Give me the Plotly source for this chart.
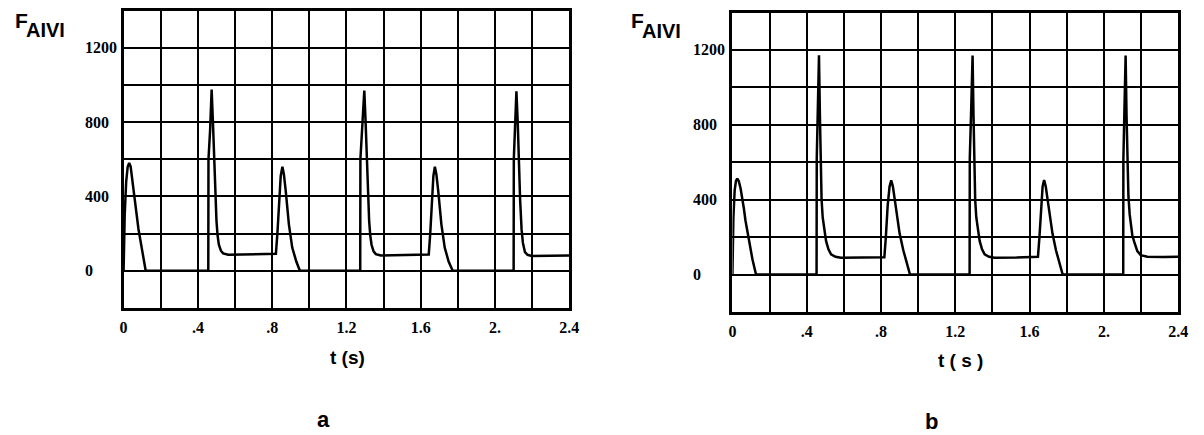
import plotly.graph_objects as go

# ---------------- data ----------------
t_a = [0.000, 0.006, 0.014, 0.022, 0.030, 0.038, 0.048, 0.057, 0.065, 0.073, 0.080, 0.100, 0.119,
       0.456, 0.457, 0.466, 0.474, 0.481, 0.488, 0.494, 0.500, 0.506, 0.513, 0.524, 0.536, 0.563, 0.700, 0.820,
       0.828, 0.837, 0.846, 0.855, 0.863, 0.873, 0.882, 0.890, 0.908, 0.930, 0.949,
       1.274, 1.275, 1.285, 1.296, 1.303, 1.310, 1.316, 1.322, 1.328, 1.335, 1.346, 1.358, 1.385, 1.500, 1.643,
       1.651, 1.659, 1.668, 1.676, 1.684, 1.694, 1.703, 1.711, 1.729, 1.750, 1.772,
       2.100, 2.101, 2.108, 2.115, 2.122, 2.128, 2.135, 2.143, 2.150, 2.161, 2.175, 2.197, 2.300, 2.400]
f_a = [0, 300, 480, 560, 580, 560, 480, 400, 330, 260, 225, 110, 0,
       0, 600, 760, 975, 800, 590, 400, 270, 190, 140, 108, 94, 86, 88, 92,
       200, 390, 510, 560, 520, 430, 330, 250, 125, 50, 0,
       0, 600, 760, 970, 800, 590, 400, 270, 190, 140, 105, 90, 82, 84, 88,
       200, 390, 510, 560, 520, 430, 330, 250, 125, 50, 0,
       0, 600, 760, 965, 800, 560, 380, 220, 150, 100, 86, 80, 80, 82]

t_b = [0.000, 0.005, 0.012, 0.019, 0.026, 0.034, 0.044, 0.053, 0.062, 0.070, 0.080, 0.088, 0.108, 0.127,
       0.453, 0.454, 0.460, 0.466, 0.471, 0.475, 0.480, 0.486, 0.494, 0.504, 0.517, 0.531, 0.555, 0.584, 0.700, 0.818,
       0.826, 0.836, 0.846, 0.855, 0.864, 0.874, 0.886, 0.900, 0.920, 0.938, 0.956,
       1.277, 1.278, 1.286, 1.293, 1.298, 1.302, 1.307, 1.313, 1.321, 1.331, 1.344, 1.358, 1.382, 1.411, 1.530, 1.645,
       1.653, 1.662, 1.670, 1.678, 1.687, 1.697, 1.709, 1.723, 1.742, 1.760, 1.778,
       2.104, 2.105, 2.111, 2.117, 2.122, 2.127, 2.132, 2.139, 2.145, 2.153, 2.163, 2.180, 2.198, 2.234, 2.320, 2.400]
f_b = [0, 300, 450, 500, 513, 500, 460, 413, 350, 290, 230, 180, 80, 0,
       0, 620, 900, 1172, 850, 520, 400, 305, 235, 180, 135, 108, 95, 90, 91, 93,
       200, 370, 470, 503, 470, 400, 310, 220, 130, 60, 0,
       0, 620, 900, 1170, 850, 520, 400, 305, 235, 180, 135, 108, 95, 90, 91, 95,
       200, 370, 470, 505, 470, 400, 310, 220, 130, 60, 0,
       0, 620, 900, 1170, 850, 520, 420, 320, 260, 210, 176, 125, 104, 95, 94, 95]

x_grid = [0.0, 0.2, 0.4, 0.6, 0.8, 1.0, 1.2, 1.4, 1.6, 1.8, 2.0, 2.2, 2.4]
x_labels = ["<b>0</b>", "", "<b>.4</b>", "", "<b>.8</b>", "", "<b>1.2</b>", "", "<b>1.6</b>", "",
            "<b>2.</b>", "", "<b>2.4</b>"]
y_grid = [-200, 0, 200, 400, 600, 800, 1000, 1200, 1400]
y_label_vals = [0, 400, 800, 1200]
y_label_text = ["0", "400", "800", "1200"]
x_title = ["t (s)", "t ( s )"]
y_title_main = "F"
y_title_sub = "AIVI"
panel_names = ["a", "b"]

# ---------------- figure ----------------
W, H = 1204, 435
fig = go.Figure()
fig.add_trace(go.Scatter(x=t_a, y=f_a, mode="lines", line=dict(color="black", width=2.5),
                         xaxis="x", yaxis="y", showlegend=False, hoverinfo="skip"))
fig.add_trace(go.Scatter(x=t_b, y=f_b, mode="lines", line=dict(color="black", width=2.5),
                         xaxis="x2", yaxis="y2", showlegend=False, hoverinfo="skip"))

tick_font = dict(family="Liberation Serif", size=16, color="black")

def xax(domain, anchor):
    return dict(domain=domain, anchor=anchor, range=[0, 2.4], tickvals=x_grid, ticktext=x_labels,
                showgrid=True, gridcolor="black", gridwidth=1.6, zeroline=False,
                showline=True, mirror=True, linecolor="black", linewidth=3,
                ticks="", tickfont=tick_font, ticklabelstandoff=3, fixedrange=True)

def yax(domain, anchor):
    return dict(domain=domain, anchor=anchor, range=[-200, 1400], tickvals=y_grid,
                showticklabels=False, showgrid=True, gridcolor="black", gridwidth=2.2, zeroline=False,
                showline=True, mirror=True, linecolor="black", linewidth=3, ticks="", fixedrange=True)

pa_x = [121 / W, 572 / W]
pa_y = [1 - 308 / H, 1 - 10.5 / H]
pb_x = [737 / W, 1188 / W]
pb_y = [1 - 312 / H, 1 - 12.5 / H]

fig.update_layout(
    width=W, height=H, margin=dict(l=0, r=0, t=0, b=0),
    paper_bgcolor="white", plot_bgcolor="white",
    xaxis=xax(pa_x, "y"), yaxis=yax(pa_y, "x"),
    xaxis2=xax(pb_x, "y2"), yaxis2=yax(pb_y, "x2"),
)

ann = []
# y tick labels (left aligned as in the original)
for yref, xpix in (("y", 80), ("y2", 695)):
    for v, txt in zip(y_label_vals, y_label_text):
        ann.append(dict(x=xpix / W, xref="paper", y=v, yref=yref, text="<b>" + txt + "</b>", showarrow=False,
                        xanchor="left", yanchor="middle", font=tick_font))

sans_b = "Liberation Sans"
# axis titles
for (xc, yc), txt in zip(((347.7, 357), (968, 360)), x_title):
    ann.append(dict(x=xc / W, y=1 - yc / H, xref="paper", yref="paper", text="<b>" + txt + "</b>",
                    showarrow=False, xanchor="center", yanchor="middle",
                    font=dict(family=sans_b, size=19, color="black")))
# F_AIVI labels
for (fx, fy, sx, sy) in ((9, 21, 20, 30), (632, 21, 643, 31)):
    ann.append(dict(x=fx / W, y=1 - fy / H, xref="paper", yref="paper", text="<b>" + y_title_main + "</b>",
                    showarrow=False, xanchor="left", yanchor="middle",
                    font=dict(family=sans_b, size=21, color="black")))
    ann.append(dict(x=sx / W, y=1 - sy / H, xref="paper", yref="paper", text="<b>" + y_title_sub + "</b>",
                    showarrow=False, xanchor="left", yanchor="middle",
                    font=dict(family=sans_b, size=20, color="black")))
# panel letters
for (xc, yc), txt in zip(((323, 419), (938, 421)), panel_names):
    ann.append(dict(x=xc / W, y=1 - yc / H, xref="paper", yref="paper", text="<b>" + txt + "</b>",
                    showarrow=False, xanchor="center", yanchor="middle",
                    font=dict(family=sans_b, size=22, color="black")))

fig.update_layout(annotations=ann)
fig.write_html("out.html")
